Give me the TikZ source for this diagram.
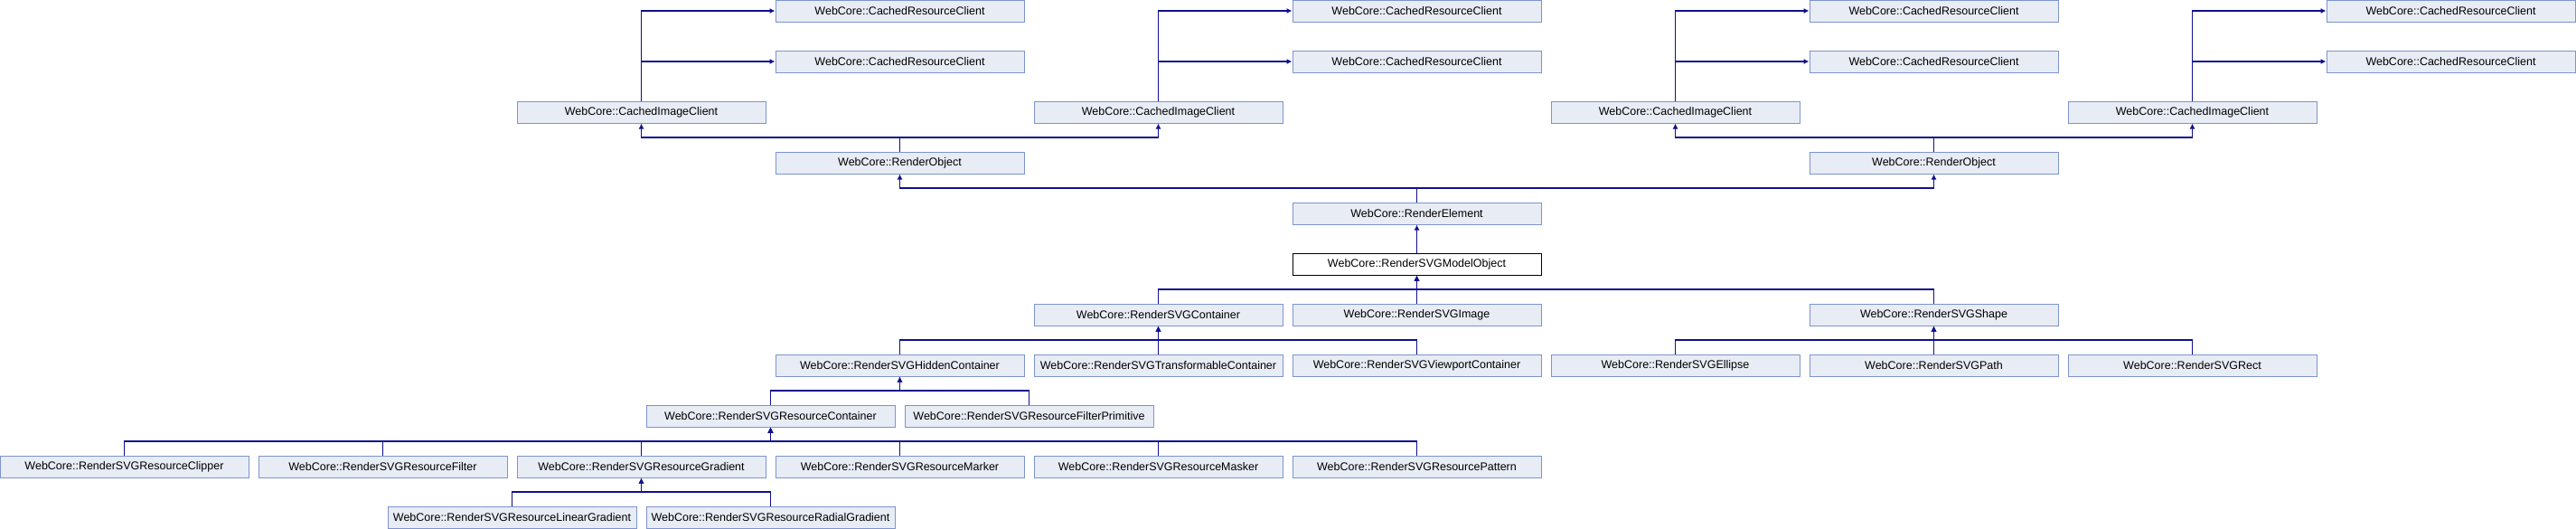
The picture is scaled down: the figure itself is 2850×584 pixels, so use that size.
\documentclass[tikz,border=0pt]{standalone}
\usepackage{fontspec}
\setmainfont{Liberation Sans}
\usepackage{xcolor}
\usetikzlibrary{arrows.meta}

\definecolor{boxfill}{RGB}{232,236,245}
\definecolor{boxline}{RGB}{124,148,206}
\definecolor{linkblue}{RGB}{16,16,140}

\begin{document}
\begin{tikzpicture}[x=1pt,y=-1pt,
		cls/.style={draw=boxline, fill=boxfill, line width=1pt, minimum width=275pt, minimum height=24pt, inner sep=0pt, font=\fontsize{12.5}{14}\selectfont},
		link/.style={draw=linkblue, line width=1.8pt, -{Latex[length=6pt,width=6pt]}}]
			\useasboundingbox (0,0) rectangle (2850,584);
			% client branches on top
			\foreach \i/\c in {1/709.5,2/1281.5,3/1853.5,4/2425.5} {
				\node[cls] (cic\i) at (\c,124) {WebCore::CachedImageClient};
				\node[cls] (crcA\i) at (\c+286,12) {WebCore::CachedResourceClient};
				\node[cls] (crcB\i) at (\c+286,68) {WebCore::CachedResourceClient};
				\draw[link] (cic\i.north) |- (crcA\i.west);
				\draw[link] (cic\i.north |- crcB\i.west) -- (crcB\i.west);
			}
			\node[cls] (ro1) at (995.5,180) {WebCore::RenderObject};
			\node[cls] (ro2) at (2139.5,180) {WebCore::RenderObject};
			\node[cls] (re) at (1567.5,236) {WebCore::RenderElement};
			\node[cls, fill=white, draw=black] (mo) at (1567.5,292) {WebCore::RenderSVGModelObject};
			\node[cls] (cont) at (1281.5,348) {WebCore::RenderSVGContainer};
			\node[cls] (img) at (1567.5,348) {WebCore::RenderSVGImage};
			\node[cls] (shape) at (2139.5,348) {WebCore::RenderSVGShape};
			\node[cls] (hidden) at (995.5,404) {WebCore::RenderSVGHiddenContainer};
			\node[cls] (transf) at (1281.5,404) {WebCore::RenderSVGTransformableContainer};
			\node[cls] (viewp) at (1567.5,404) {WebCore::RenderSVGViewportContainer};
			\node[cls] (ellipse) at (1853.5,404) {WebCore::RenderSVGEllipse};
			\node[cls] (path) at (2139.5,404) {WebCore::RenderSVGPath};
			\node[cls] (rect) at (2425.5,404) {WebCore::RenderSVGRect};
			\node[cls] (rescont) at (852.5,460) {WebCore::RenderSVGResourceContainer};
			\node[cls] (filtprim) at (1138.5,460) {WebCore::RenderSVGResourceFilterPrimitive};
			\node[cls] (clipper) at (137.5,516) {WebCore::RenderSVGResourceClipper};
			\node[cls] (filter) at (423.5,516) {WebCore::RenderSVGResourceFilter};
			\node[cls] (grad) at (709.5,516) {WebCore::RenderSVGResourceGradient};
			\node[cls] (marker) at (995.5,516) {WebCore::RenderSVGResourceMarker};
			\node[cls] (masker) at (1281.5,516) {WebCore::RenderSVGResourceMasker};
			\node[cls] (pattern) at (1567.5,516) {WebCore::RenderSVGResourcePattern};
			\node[cls] (lingrad) at (566.5,572) {WebCore::RenderSVGResourceLinearGradient};
			\node[cls] (radgrad) at (852.5,572) {WebCore::RenderSVGResourceRadialGradient};
			% inheritance links
			\draw[link] (ro1.north) -- (ro1.north |- 0,152) -| (cic1.south);
			\draw[link] (ro1.north) -- (ro1.north |- 0,152) -| (cic2.south);
			\draw[link] (ro2.north) -- (ro2.north |- 0,152) -| (cic3.south);
			\draw[link] (ro2.north) -- (ro2.north |- 0,152) -| (cic4.south);
			\draw[link] (re.north) -- (re.north |- 0,208) -| (ro1.south);
			\draw[link] (re.north) -- (re.north |- 0,208) -| (ro2.south);
			\draw[link] (mo.north) -- (re.south);
			\draw[link] (img.north) -- (mo.south);
			\draw[link] (cont.north) -- (cont.north |- 0,320) -| (mo.south);
			\draw[link] (shape.north) -- (shape.north |- 0,320) -| (mo.south);
			\draw[link] (transf.north) -- (cont.south);
			\draw[link] (hidden.north) -- (hidden.north |- 0,376) -| (cont.south);
			\draw[link] (viewp.north) -- (viewp.north |- 0,376) -| (cont.south);
			\draw[link] (path.north) -- (shape.south);
			\draw[link] (ellipse.north) -- (ellipse.north |- 0,376) -| (shape.south);
			\draw[link] (rect.north) -- (rect.north |- 0,376) -| (shape.south);
			\draw[link] (rescont.north) -- (rescont.north |- 0,432) -| (hidden.south);
			\draw[link] (filtprim.north) -- (filtprim.north |- 0,432) -| (hidden.south);
			\foreach \n in {clipper,filter,grad,marker,masker,pattern} {
				\draw[link] (\n.north) -- (\n.north |- 0,488) -| (rescont.south);
			}
			\draw[link] (lingrad.north) -- (lingrad.north |- 0,544) -| (grad.south);
			\draw[link] (radgrad.north) -- (radgrad.north |- 0,544) -| (grad.south);
		\end{tikzpicture}
\end{document}
